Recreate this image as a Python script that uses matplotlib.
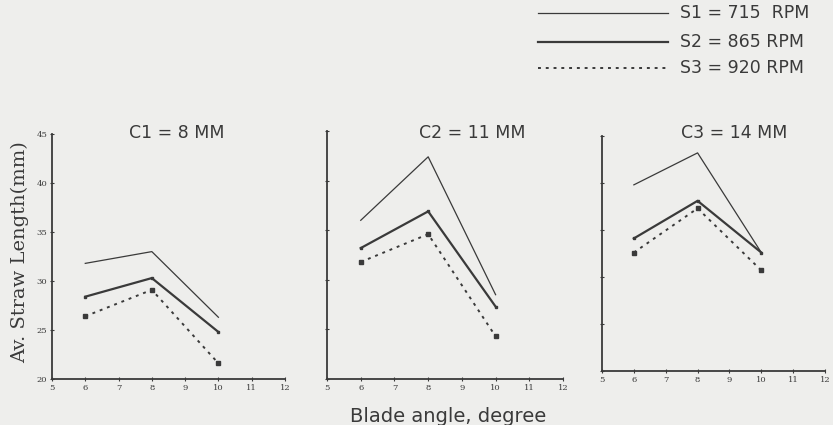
import matplotlib.pyplot as plt
from matplotlib.lines import Line2D

# blade angle (degree)
angles = [6, 8, 10]

# average straw length (mm) per concave clearance, one list per cylinder speed
c1_s1 = [31.8, 33.0, 26.3]
c1_s2 = [28.4, 30.3, 24.8]
c1_s3 = [26.4, 29.1, 21.6]

c2_s1 = [36.0, 42.4, 28.5]
c2_s2 = [33.2, 36.9, 27.3]
c2_s3 = [31.8, 34.6, 24.3]

c3_s1 = [39.8, 43.2, 32.6]
c3_s2 = [34.1, 38.1, 32.6]
c3_s3 = [32.6, 37.3, 30.7]

panel_titles = ['C1 = 8 MM', 'C2 = 11 MM', 'C3 = 14 MM']
speed_labels = ['S1 = 715  RPM', 'S2 = 865 RPM', 'S3 = 920 RPM']
xticks = [5, 6, 7, 8, 9, 10, 11, 12]
yticks = [20, 25, 30, 35, 40, 45]

panels = [
    (c1_s1, c1_s2, c1_s3),
    (c2_s1, c2_s2, c2_s3),
    (c3_s1, c3_s2, c3_s3),
]

ink = '#3a3a3a'
bg = '#eeeeec'

fig = plt.figure(figsize=(8.33, 4.25), dpi=100, facecolor=bg)

# axes boxes
boxes = [
    [0.0624, 0.1082, 0.2797, 0.5765],
    [0.3926, 0.1082, 0.2833, 0.5835],
    [0.7227, 0.1271, 0.2677, 0.5530],
]
# title centres (px) - they sit a bit right of the axes centre in the scan
title_x = [177, 472, 734]

styles = [
    dict(color=ink, lw=0.9, ls='-'),
    dict(color=ink, lw=1.6, ls='-', marker='s', ms=2),
    dict(color=ink, lw=1.4, ls=(0, (1.5, 2.5)), marker='s', ms=2.5),
]

for i, (series, box, title) in enumerate(zip(panels, boxes, panel_titles)):
    ax = fig.add_axes(box)
    ax.set_facecolor(bg)
    for vals, st in zip(series, styles):
        ax.plot(angles, vals, **st)
    ax.set_xlim(5, 12)
    ax.set_ylim(20, 45)
    ax.set_xticks(xticks)
    ax.set_yticks(yticks)
    ax.spines['top'].set_visible(False)
    ax.spines['right'].set_visible(False)
    for s in ('left', 'bottom'):
        ax.spines[s].set_color(ink)
        ax.spines[s].set_linewidth(1.3)
    ax.tick_params(direction='inout', length=3, width=0.8, colors=ink,
                   labelsize=6, pad=2)
    for lab in ax.get_xticklabels() + ax.get_yticklabels():
        lab.set_family('DejaVu Serif')
    if i > 0:
        ax.set_yticklabels([])
    fig.text(title_x[i] / 833, 1 - 133 / 425, title, ha='center', va='center',
             fontsize=12.5, color=ink, family='DejaVu Sans')

fig.text(0.024, 1 - 252 / 425, 'Av. Straw Length(mm)', rotation=90,
         ha='center', va='center', fontsize=14, color=ink,
         family='DejaVu Serif')
fig.text(448 / 833, 1 - 416 / 425, 'Blade angle, degree', ha='center',
         va='center', fontsize=14, color=ink, family='DejaVu Sans')

# legend drawn as a key at the top right
key_y = [13, 42, 68]
for lab, st, yy in zip(speed_labels, styles, key_y):
    y = 1 - yy / 425
    st = {k: v for k, v in st.items() if k not in ('marker', 'ms')}
    fig.add_artist(Line2D([538 / 833, 668 / 833], [y, y], **st))
    fig.text(680 / 833, y, lab, ha='left', va='center', fontsize=12.5,
             color=ink, family='DejaVu Sans')

fig.savefig('out.png', dpi=100, facecolor=bg)
